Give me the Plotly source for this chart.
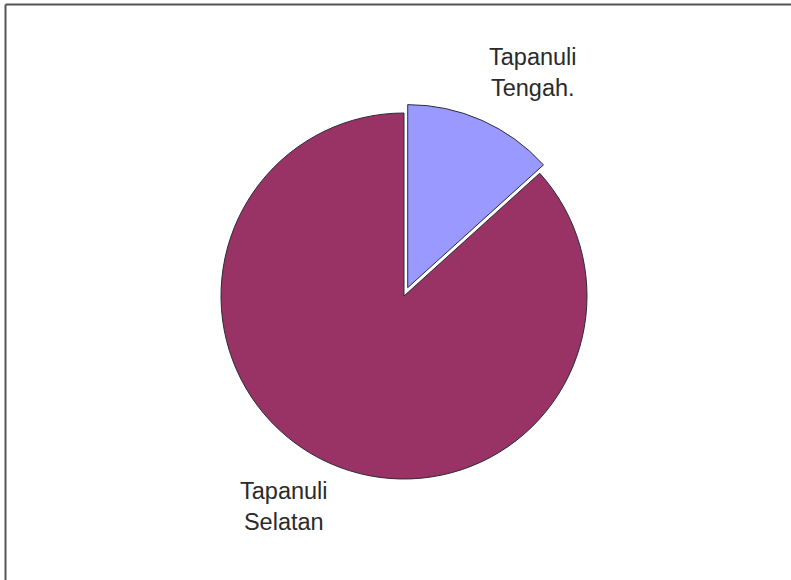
import plotly.graph_objects as go

labels = ["Tapanuli Tengah.", "Tapanuli Selatan"]
values = [13.3, 86.7]
colors = ["#9999FF", "#993366"]
pulls = [0.05, 0]

W, H = 791, 580
cx, cy, r = 404, 296, 183
R = r * (1 + max(pulls))

fig = go.Figure(go.Pie(
    labels=labels, values=values, sort=False, direction="clockwise",
    rotation=0, pull=pulls, textinfo="none", hoverinfo="label+value",
    marker=dict(colors=colors, line=dict(color="#2b2b3a", width=1)),
    domain=dict(x=[(cx - R) / W, (cx + R) / W],
                y=[(H - cy - R) / H, (H - cy + R) / H]),
    showlegend=False,
))

font = dict(family="Liberation Sans, Arial, sans-serif", size=23.5, color="#2a2a2a")
fig.add_annotation(x=533 / W, y=1 - 73 / H, xref="paper", yref="paper",
                   text="Tapanuli<br>Tengah.", showarrow=False, font=font,
                   xanchor="center", yanchor="middle", align="center")
fig.add_annotation(x=284 / W, y=1 - 506 / H, xref="paper", yref="paper",
                   text="Tapanuli<br>Selatan", showarrow=False, font=font,
                   xanchor="center", yanchor="middle", align="center")

# frame lines (top and left)
fig.add_shape(type="line", xref="paper", yref="paper",
              x0=5.5 / W, x1=1, y0=1 - 4.5 / H, y1=1 - 4.5 / H,
              line=dict(color="#555555", width=2))
fig.add_shape(type="line", xref="paper", yref="paper",
              x0=5.5 / W, x1=5.5 / W, y0=0, y1=1 - 4.5 / H,
              line=dict(color="#555555", width=2))

fig.update_layout(width=W, height=H, margin=dict(l=0, r=0, t=0, b=0),
                  paper_bgcolor="white", plot_bgcolor="white")
fig.write_html("out.html")
